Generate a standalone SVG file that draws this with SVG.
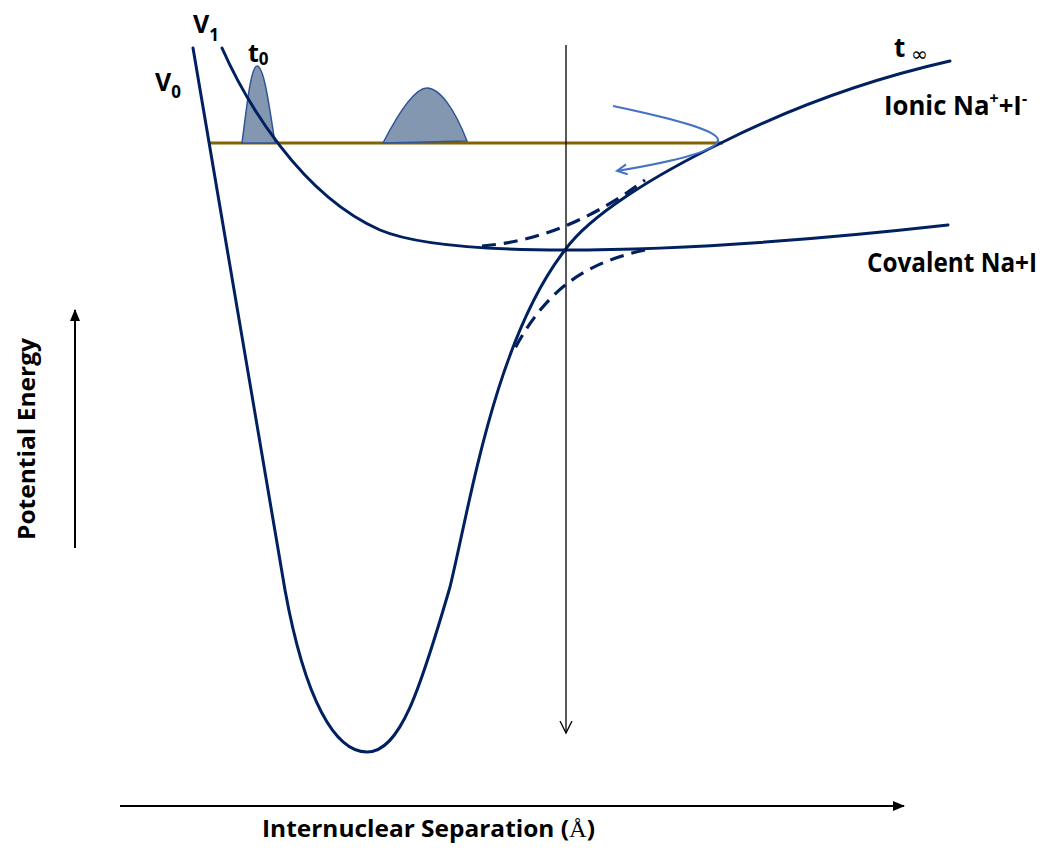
<svg xmlns="http://www.w3.org/2000/svg" width="1048" height="852" viewBox="0 0 1048 852">
<style>
.curve{fill:none;stroke:#002060;stroke-width:3;stroke-linecap:round}
.dash{fill:none;stroke:#002060;stroke-width:3.2;stroke-dasharray:14 8}
.lbl{font-family:"Open Sans","Liberation Sans",sans-serif;font-weight:bold;fill:#000}
.pkt{fill:#8497B0;stroke:#2F5597;stroke-width:1.5}
</style>
<defs>
<marker id="fillArrow" markerWidth="12" markerHeight="10" refX="11" refY="5" orient="auto" markerUnits="userSpaceOnUse">
<path d="M0,0 L12,5 L0,10 Z" fill="#000"/>
</marker>
<marker id="openArrow" markerWidth="14" markerHeight="14" refX="12" refY="7" orient="auto" markerUnits="userSpaceOnUse">
<path d="M0,1 L12,7 L0,13" fill="none" stroke="#000" stroke-width="1.3"/>
</marker>
<marker id="blueArrow" markerWidth="14" markerHeight="12" refX="11" refY="6" orient="auto" markerUnits="userSpaceOnUse">
<path d="M1,1 L11,6 L1,11" fill="none" stroke="#4472C4" stroke-width="2"/>
</marker>
</defs>

<g id="axes">
<line x1="75" y1="548" x2="75" y2="310" stroke="#000" stroke-width="2" marker-end="url(#fillArrow)"/>
<line x1="120" y1="806" x2="904" y2="806" stroke="#000" stroke-width="2" marker-end="url(#fillArrow)"/>
</g>

<g id="energy-level">
<line x1="210" y1="143" x2="723" y2="143" stroke="#846200" stroke-width="3"/>
</g>

<g id="wavepacket-t0">
<path class="pkt" d="M242,143 C247,105 251,66 257,66 C264,66 269,105 275,143 Z"/>
</g>
<g id="wavepacket-2">
<path class="pkt" d="M383,143 C400,110 415,88 427,88 C440,88 455,110 467,141 Z"/>
</g>

<g id="V0-curve">
<path class="curve" d="M193,48 L285,590 C305,700 335,752 367,752 C400,752 420,690 450,587 C470,505 495,340 565,250 C590,215 655,175 723,142 C795,106 875,78 950,61"/>
</g>
<g id="V1-curve">
<path class="curve" d="M222,48 C245,100 300,195 380,230 C420,247 500,250 565,250 C700,250 850,236 948,225"/>
</g>

<g id="connectors">
<path class="dash" d="M482,246 C530,242 583,226 645,180"/>
<path class="dash" d="M645,250 C590,262 548,285 513,352"/>
<line x1="566" y1="45" x2="566" y2="733" stroke="#000" stroke-width="1.3" marker-end="url(#openArrow)"/>
<path d="M613,106 C670,118 718,130 718,140 C718,152 665,163 617,171" fill="none" stroke="#4472C4" stroke-width="2.2" marker-end="url(#blueArrow)"/>
</g>

<g id="labels">
<text class="lbl" x="193" y="33" font-size="25">V<tspan font-size="17" dy="8">1</tspan></text>
<text class="lbl" x="155" y="91" font-size="25">V<tspan font-size="17" dy="7">0</tspan></text>
<text class="lbl" x="248" y="62" font-size="25">t<tspan font-size="17" dy="3">0</tspan></text>
<text class="lbl" x="894" y="57" font-size="26">t</text>
<text x="911" y="61" font-size="20" font-family="DejaVu Sans,sans-serif" fill="#000">∞</text>
<text class="lbl" x="884" y="115" font-size="26" textLength="143" lengthAdjust="spacingAndGlyphs">Ionic Na<tspan font-size="16" dy="-11">+</tspan><tspan dy="11">+I</tspan><tspan font-size="16" dy="-11">-</tspan></text>
<text class="lbl" x="867" y="272" font-size="26" textLength="170" lengthAdjust="spacingAndGlyphs">Covalent Na+I</text>
<text class="lbl" x="262" y="837" font-size="23" textLength="333" lengthAdjust="spacingAndGlyphs">Internuclear Separation (<tspan font-family="Liberation Serif,serif" font-weight="normal">Å</tspan>)</text>
<text class="lbl" font-size="24" transform="translate(35,540) rotate(-90)" textLength="202" lengthAdjust="spacingAndGlyphs">Potential Energy</text>
</g>
</svg>
